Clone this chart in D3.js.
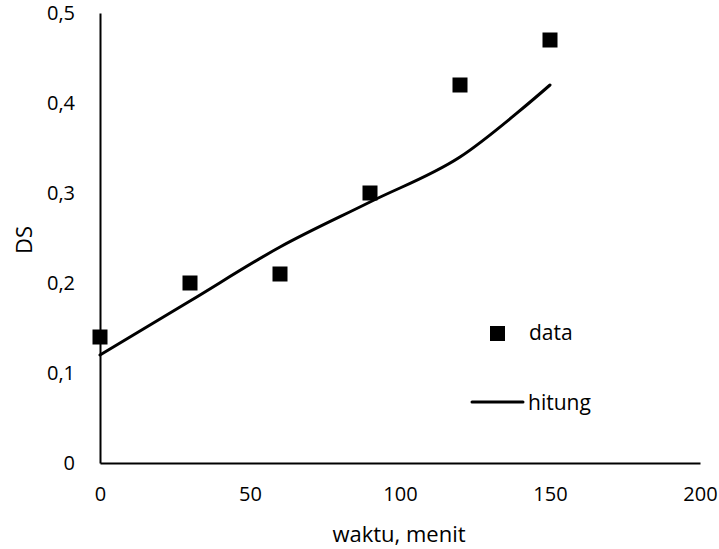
<!DOCTYPE html>
<html>
<head>
<meta charset="utf-8">
<script src="https://cdn.jsdelivr.net/npm/d3@7"></script>
<style>
  body { margin: 0; background: #fff; }
  text { font-family: "Open Sans", "Noto Sans", sans-serif; fill: #000; }
</style>
</head>
<body>
<div id="chart"></div>
<script>
// data
const waktu = [0, 30, 60, 90, 120, 150]
const dsData = [0.14, 0.2, 0.21, 0.3, 0.42, 0.47]
const dsHitung = [0.12, 0.18, 0.24, 0.29, 0.34, 0.42]
const xTicks = [0, 50, 100, 150, 200]
const yTicks = [0, 0.1, 0.2, 0.3, 0.4, 0.5]

const width = 719
const height = 549
const margin = { top: 13, bottom: 86, right: 19, left: 100 }

const svg = d3.select("div#chart").append("svg").attr("width", width).attr("height", height)

const x = d3.scaleLinear().domain([0, 200]).range([margin.left, width - margin.right])
const y = d3.scaleLinear().domain([0, 0.5]).range([height - margin.bottom, margin.top])

const fmt = d => d === 0 ? "0" : d3.format(".1f")(d).replace(".", ",")

// axes (no tick marks, only labels)
const xAxis = d3.axisBottom(x).tickValues(xTicks).tickSize(0).tickPadding(24).tickFormat(d3.format("d"))
const yAxis = d3.axisLeft(y).tickValues(yTicks).tickSize(0).tickPadding(25).tickFormat(fmt)

svg.append("g").attr("transform", `translate(0, ${y(0)})`).call(xAxis)
svg.append("g").attr("transform", `translate(${x(0)}, 0)`).call(yAxis)

svg.selectAll(".domain").attr("stroke", "#000").attr("stroke-width", 2)
svg.selectAll(".tick text").style("font-size", "20px").attr("fill", "#000")

// axis titles
svg.append("text")
    .attr("x", 399).attr("y", 542)
    .attr("text-anchor", "middle")
    .style("font-size", "22px")
    .text("waktu, menit")

svg.append("text")
    .attr("transform", `translate(32, 240) rotate(-90)`)
    .attr("text-anchor", "middle")
    .style("font-size", "22px")
    .text("DS")

// hitung line
const line = d3.line()
    .x((d, i) => x(waktu[i]))
    .y(d => y(d))
    .curve(d3.curveCatmullRom.alpha(0))

svg.append("path")
    .datum(dsHitung)
    .attr("d", line)
    .attr("fill", "none")
    .attr("stroke", "#000")
    .attr("stroke-width", 3)
    .attr("stroke-linecap", "round")

// data points
const size = 15
svg.selectAll("rect.pt").data(dsData).enter()
    .append("rect")
    .attr("class", "pt")
    .attr("x", (d, i) => x(waktu[i]) - size / 2)
    .attr("y", d => y(d) - size / 2)
    .attr("width", size)
    .attr("height", size)
    .attr("fill", "#000")

// legend
const legend = svg.append("g")
legend.append("rect").attr("x", 490).attr("y", 326).attr("width", 15).attr("height", 15).attr("fill", "#000")
legend.append("text").attr("x", 529).attr("y", 340).style("font-size", "21px").text("data")
legend.append("line").attr("x1", 472).attr("x2", 523).attr("y1", 402).attr("y2", 402)
    .attr("stroke", "#000").attr("stroke-width", 3).attr("stroke-linecap", "round")
legend.append("text").attr("x", 528).attr("y", 410).style("font-size", "21px").text("hitung")
</script>
</body>
</html>
